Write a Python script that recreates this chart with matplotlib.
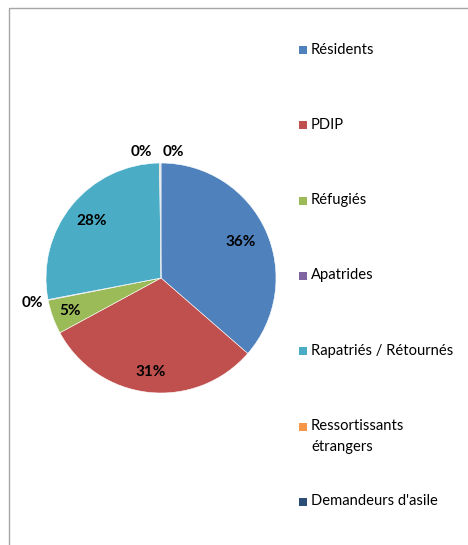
import numpy as np
import matplotlib.pyplot as plt
from matplotlib.lines import Line2D
from matplotlib.patches import Rectangle

plt.rcParams['font.family'] = ['Lato', 'DejaVu Sans']

# données
categories = ["Résidents", "PDIP", "Réfugiés", "Apatrides",
              "Rapatriés / Rétournés", "Ressortissants\nétrangers", "Demandeurs d'asile"]
values = [36.4, 30.7, 4.8, 0.1, 27.8, 0.1, 0.1]
colors = ["#4F81BD", "#C0504D", "#9BBB59", "#8064A2", "#4BACC6", "#F79646", "#2C4D75"]

W, H = 468, 545
fig = plt.figure(figsize=(W / 100, H / 100), dpi=100)

# cadre (coupé à droite et en bas)
fx = 9 / W
fy = 1 - 8 / H
fig.add_artist(Line2D([fx, fx, 1.0], [0.0, fy, fy], transform=fig.transFigure,
                      color="#A6A6A6", lw=1.0))

# camembert
cx, cy, r = 161, 278, 115
ax = fig.add_axes([(cx - r) / W, (H - cy - r) / H, 2 * r / W, 2 * r / H])
wedges, _ = ax.pie(values, colors=colors, startangle=90, counterclock=False,
                   radius=1, wedgeprops=dict(edgecolor="white", linewidth=0.4))
ax.set_xlim(-1, 1)
ax.set_ylim(-1, 1)
ax.set_aspect("equal")
ax.axis("off")

# étiquettes de pourcentage
total = sum(values)
dist = [0.76, 0.82, 0.84, 1.14, 0.78, 1.10, 1.10]
shift = [0, 0, 0, 0, 0, -0.16, 0.11]
for i, w in enumerate(wedges):
    ang = np.deg2rad((w.theta1 + w.theta2) / 2)
    x = dist[i] * np.cos(ang) + shift[i]
    y = dist[i] * np.sin(ang)
    ax.text(x, y, "{:.0f}%".format(values[i] / total * 100), ha="center", va="center",
            fontsize=11, fontweight="bold", color="black", clip_on=False)

# légende
y0, step = 50, 75.3
for i, lab in enumerate(categories):
    yc = y0 + i * step
    fig.add_artist(Rectangle((299 / W, 1 - (yc + 4) / H), 8 / W, 8 / H,
                             transform=fig.transFigure, facecolor=colors[i], edgecolor="none"))
    fig.text(311 / W, 1 - (yc - 7.5) / H, lab, ha="left", va="top", fontsize=10.6,
             color="black", linespacing=1.6)

fig.savefig("out.png", dpi=100, facecolor="white")
